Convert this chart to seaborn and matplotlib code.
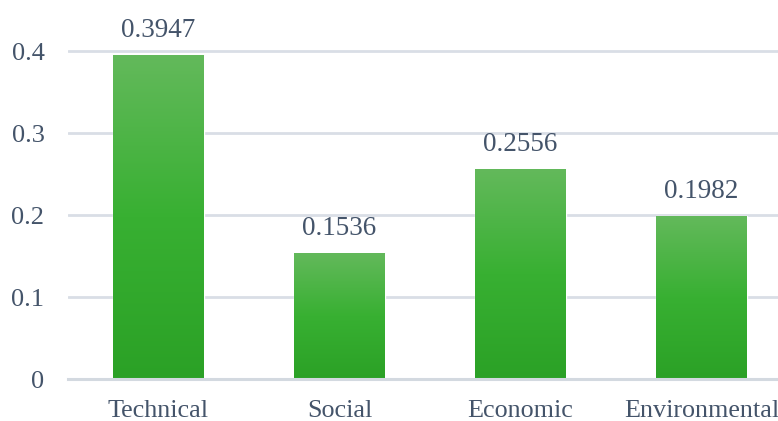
import numpy as np
import pandas as pd
import matplotlib
matplotlib.use("Agg")
import matplotlib.pyplot as plt
from matplotlib.colors import LinearSegmentedColormap
import seaborn as sns

categories = ["Technical", "Social", "Economic", "Environmental"]
weights = [0.3947, 0.1536, 0.2556, 0.1982]
y_ticks = [0, 0.1, 0.2, 0.3, 0.4]
y_tick_labels = ["0", "0.1", "0.2", "0.3", "0.4"]

df = pd.DataFrame({"category": categories, "weight": weights})

sns.set_theme(style="white")
plt.rcParams["font.family"] = ["Liberation Serif", "DejaVu Serif"]

text_color = "#44546a"
grid_color = "#d9dee6"

fig = plt.figure(figsize=(7.78, 4.21), dpi=100)
W, H = 778, 421
left, right, bottom, top = 68, 792, 379, 10
ax = fig.add_axes([left / W, (H - bottom) / H, (right - left) / W, (bottom - top) / H])

sns.barplot(data=df, x="category", y="weight", ax=ax, width=0.5,
            color="#3ab034", saturation=1, zorder=3)

# vertical green gradient inside each bar
grad = LinearSegmentedColormap.from_list(
    "bar_grad", ["#2ba126", "#38b032", "#63b95b"])
gradient = np.linspace(0, 1, 256).reshape(-1, 1)
for patch in ax.patches:
    x0, y0 = patch.get_x(), patch.get_y()
    w, h = patch.get_width(), patch.get_height()
    im = ax.imshow(gradient, cmap=grad, origin="lower", aspect="auto",
                   extent=(x0, x0 + w, y0, y0 + h), zorder=4)
    im.set_clip_path(patch)
    ax.annotate(f"{h:.4f}", xy=(x0 + w / 2, y0 + h), xytext=(0, 9),
                textcoords="offset points", ha="center", va="bottom",
                fontsize=19.5, color=text_color)

ax.set_aspect("auto")
ax.set_xlim(-0.5, 3.5)
ax.set_ylim(0, 0.45)

ax.set_yticks(y_ticks)
ax.set_yticklabels(y_tick_labels)
ax.yaxis.grid(True, color=grid_color, linewidth=2, zorder=0)
ax.set_axisbelow(True)

for side in ["left", "right", "top"]:
    ax.spines[side].set_visible(False)
ax.spines["bottom"].set_color("#d3d9e0")
ax.spines["bottom"].set_linewidth(2.2)
ax.spines["bottom"].set_zorder(5)

ax.tick_params(axis="x", length=0, pad=15, labelsize=18.8, labelcolor=text_color)
ax.tick_params(axis="y", length=0, pad=17, labelsize=19, labelcolor=text_color)
ax.set_xlabel("")
ax.set_ylabel("")

fig.savefig("out.png", dpi=100, facecolor="white")
